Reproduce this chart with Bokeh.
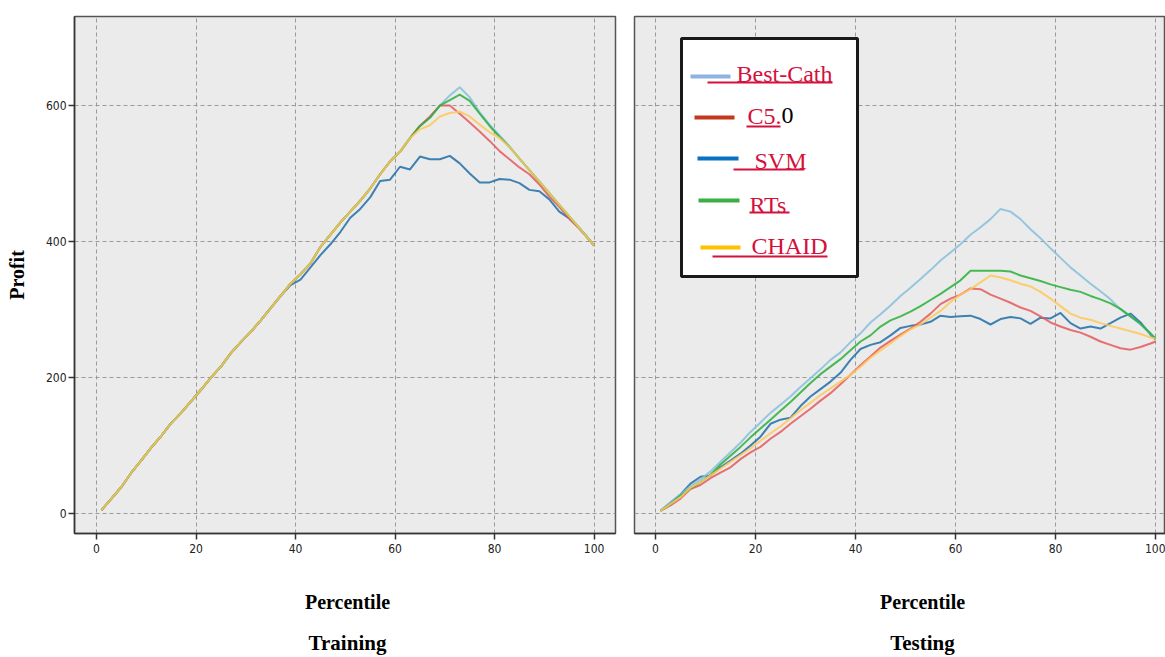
from bokeh.plotting import figure
from bokeh.models import Range1d, FixedTicker, Label, BoxAnnotation
from bokeh.layouts import row, column
from bokeh.embed import file_html
from bokeh.resources import INLINE

# ---------------- data ----------------
percentile = [1, 3, 5, 7, 9, 11, 13, 15, 17, 19, 21, 23, 25, 27, 29, 31, 33, 35, 37, 39,
              41, 43, 45, 47, 49, 51, 53, 55, 57, 59, 61, 63, 65, 67, 69, 71, 73, 75, 77, 79,
              81, 83, 85, 87, 89, 91, 93, 95, 97, 99, 100]

series_names = ["Best-Cath", "C5.0", "SVM", "RTs", "CHAID"]

train_best = [5, 22, 39, 60, 78, 97, 114, 133, 148, 165, 182, 200, 216, 236, 252, 267, 284, 302, 320, 338,
              352, 368, 392, 410, 428, 444, 460, 478, 499, 518, 532, 552, 570, 582, 600, 615, 627, 612, 590, 572,
              556, 540, 522, 505, 488, 471, 454, 437, 420, 403, 394]
train_c50 = [5, 22, 39, 60, 78, 97, 114, 133, 148, 165, 182, 200, 216, 236, 252, 267, 284, 302, 320, 338,
             352, 368, 392, 410, 428, 444, 460, 478, 499, 518, 532, 552, 570, 584, 600, 600, 588, 575, 562, 548,
             533, 521, 509, 499, 484, 466, 451, 434, 419, 403, 394]
train_svm = [5, 22, 39, 60, 78, 97, 114, 133, 148, 165, 182, 200, 216, 236, 252, 267, 284, 302, 320, 336,
             344, 362, 380, 396, 414, 435, 448, 465, 489, 491, 510, 506, 525, 521, 521, 526, 515, 500, 487, 487,
             492, 491, 486, 476, 474, 462, 444, 434, 420, 403, 394]
train_rts = [5, 22, 39, 60, 78, 97, 114, 133, 148, 165, 182, 200, 216, 236, 252, 267, 284, 302, 320, 338,
             352, 368, 392, 410, 428, 444, 460, 478, 499, 518, 532, 552, 570, 582, 600, 608, 616, 607, 588, 570,
             554, 539, 522, 505, 488, 471, 454, 437, 420, 403, 394]
train_chaid = [5, 22, 39, 60, 78, 97, 114, 133, 148, 165, 182, 200, 216, 236, 252, 267, 284, 302, 320, 338,
               352, 368, 392, 410, 428, 444, 460, 478, 499, 518, 532, 552, 565, 571, 584, 589, 591, 584, 572, 561,
               552, 539, 522, 505, 488, 471, 454, 437, 420, 403, 394]

test_best = [4, 16, 28, 40, 50, 62, 76, 90, 104, 120, 134, 148, 160, 172, 186, 199, 212, 226, 237, 252,
             265, 281, 293, 306, 320, 332, 345, 358, 372, 384, 396, 410, 421, 433, 448, 444, 433, 418, 405, 390,
             376, 362, 350, 338, 327, 315, 300, 290, 278, 264, 257]
test_c50 = [4, 12, 22, 36, 42, 52, 60, 68, 80, 90, 98, 110, 120, 132, 143, 154, 166, 177, 190, 204,
            218, 231, 244, 254, 263, 272, 282, 294, 308, 316, 322, 331, 330, 322, 316, 310, 303, 298, 290, 281,
            275, 270, 266, 260, 253, 248, 243, 241, 245, 250, 253]
test_svm = [4, 16, 28, 44, 54, 56, 68, 78, 88, 100, 113, 132, 138, 141, 158, 172, 183, 194, 207, 226,
            242, 248, 252, 262, 273, 276, 278, 282, 291, 289, 290, 291, 286, 278, 286, 289, 287, 279, 288, 287,
            295, 280, 272, 275, 272, 280, 288, 294, 281, 263, 256]
test_rts = [4, 14, 26, 37, 46, 57, 72, 85, 98, 112, 125, 138, 151, 164, 178, 192, 205, 216, 227, 240,
            253, 262, 275, 284, 290, 297, 305, 314, 323, 333, 343, 357, 357, 357, 357, 356, 350, 346, 342, 337,
            333, 329, 326, 320, 315, 309, 301, 290, 279, 265, 257]
test_chaid = [4, 14, 24, 38, 46, 56, 66, 76, 86, 96, 107, 118, 128, 140, 152, 163, 174, 184, 194, 204,
              216, 229, 240, 250, 261, 271, 278, 288, 298, 311, 322, 330, 340, 350, 347, 343, 338, 334, 326, 316,
              305, 294, 288, 285, 280, 276, 272, 268, 264, 259, 257]

x_ticks = [0, 20, 40, 60, 80, 100]
y_ticks = [0, 200, 400, 600]
x_title = "Percentile"
panel_titles = ["Training", "Testing"]
y_title = "Profit"

# ---------------- styles ----------------
line_colors = {"Best-Cath": "#86c0dc", "C5.0": "#e5595e", "SVM": "#1f6ea8",
               "RTs": "#2ab03a", "CHAID": "#ffc857"}
legend_colors = {"Best-Cath": "#8db3e2", "C5.0": "#c4391e", "SVM": "#0a70c0",
                 "RTs": "#3cae44", "CHAID": "#ffc000"}
draw_order = ["SVM", "Best-Cath", "C5.0", "RTs", "CHAID"]
serif = "Liberation Serif"
tick_font = "'Liberation Sans Narrow', 'DejaVu Sans Condensed', sans-serif"
red_text = "#d4103c"

Y0, Y1 = -29.4, 731


def make_fig(width, bl, br, x0, x1, show_y):
    p = figure(width=width, height=557, output_backend="svg", toolbar_location=None,
               x_range=Range1d(x0, x1), y_range=Range1d(Y0, Y1),
               min_border_left=bl, min_border_right=br, min_border_top=16, min_border_bottom=24)
    p.background_fill_color = "#ebebeb"
    p.border_fill_color = "white"
    p.outline_line_color = "#555555"
    p.outline_line_width = 1.5
    for ax in p.xaxis + p.yaxis:
        ax.axis_line_color = "#333333"
        ax.axis_line_width = 1.5
        ax.major_tick_line_color = "#333333"
        ax.major_tick_line_width = 1.5
        ax.major_tick_out = 6
        ax.major_tick_in = 0
        ax.minor_tick_out = 0
        ax.minor_tick_in = 0
        ax.major_label_text_font = tick_font
        ax.major_label_text_font_size = "12px"
        ax.major_label_text_color = "#222222"
    p.xaxis.ticker = FixedTicker(ticks=x_ticks)
    p.yaxis.ticker = FixedTicker(ticks=y_ticks)
    p.xaxis.major_label_standoff = 4
    p.yaxis.major_label_standoff = 2
    for g in p.xgrid + p.ygrid:
        g.grid_line_color = "#9a9a9a"
        g.grid_line_dash = "4 3"
        g.grid_line_width = 1
    p.xgrid.ticker = FixedTicker(ticks=x_ticks)
    p.ygrid.ticker = FixedTicker(ticks=y_ticks)
    if show_y:
        p.yaxis.axis_label = y_title
        p.yaxis.axis_label_text_font = serif
        p.yaxis.axis_label_text_font_style = "bold"
        p.yaxis.axis_label_text_font_size = "20px"
        p.yaxis.axis_label_text_color = "black"
        p.yaxis.axis_label_standoff = 15
    else:
        p.yaxis.visible = False
    return p


p1 = make_fig(624, 74, 9, -4.42, 104.3, True)
p2 = make_fig(541, 10, 0, -4.2, 102.0, False)

train = {"Best-Cath": train_best, "C5.0": train_c50, "SVM": train_svm, "RTs": train_rts, "CHAID": train_chaid}
test = {"Best-Cath": test_best, "C5.0": test_c50, "SVM": test_svm, "RTs": test_rts, "CHAID": test_chaid}

for p, data in ((p1, train), (p2, test)):
    for name in draw_order:
        p.line(percentile, data[name], line_color=line_colors[name], line_width=2, line_alpha=0.85)

# legend (drawn manually in the testing panel, frame-relative screen units)
p2.add_layout(BoxAnnotation(left=47, right=223, top=495, bottom=257,
                            left_units="screen", right_units="screen", top_units="screen", bottom_units="screen",
                            fill_color="white", fill_alpha=1, line_color="#1a1a1a", line_alpha=1,
                            line_width=3))
legend_layout = {
    # sample x0, x1, y ; text x, baseline ; underline x0, x1, y
    "Best-Cath": (56, 96, 457, 102, 460, 73, 198, 451),
    "C5.0": (60, 100, 416, 113, 418, 112, 146, 407),
    "SVM": (63, 104, 375, 120, 373, 99, 170, 364),
    "RTs": (64, 105, 333, 115, 329, 115, 155, 321),
    "CHAID": (66, 106, 286, 117, 288, 78, 193, 277),
}
for name in series_names:
    sx0, sx1, sy, tx, ty, ux0, ux1, uy = legend_layout[name]
    p2.add_layout(BoxAnnotation(left=sx0, right=sx1, top=sy + 2, bottom=sy - 2,
                                left_units="screen", right_units="screen", top_units="screen",
                                bottom_units="screen", fill_color=legend_colors[name], fill_alpha=1,
                                line_color=None))
    p2.add_layout(BoxAnnotation(left=ux0, right=ux1, top=uy + 1, bottom=uy - 1,
                                left_units="screen", right_units="screen", top_units="screen",
                                bottom_units="screen", fill_color=red_text, fill_alpha=1,
                                line_color=None))
    if name == "C5.0":
        p2.add_layout(Label(x=tx, y=ty, x_units="screen", y_units="screen", text="C5.",
                            text_font=serif, text_font_size="24px", text_color=red_text,
                            text_baseline="alphabetic"))
        p2.add_layout(Label(x=tx + 34, y=ty, x_units="screen", y_units="screen", text="0",
                            text_font=serif, text_font_size="24px", text_color="black",
                            text_baseline="alphabetic"))
    else:
        p2.add_layout(Label(x=tx, y=ty, x_units="screen", y_units="screen", text=name,
                            text_font=serif, text_font_size="24px", text_color=red_text,
                            text_baseline="alphabetic"))

# bottom strip with the axis titles and panel names
pb = figure(width=1165, height=100, output_backend="svg", toolbar_location=None,
            x_range=Range1d(0, 1), y_range=Range1d(0, 1),
            x_axis_location=None, y_axis_location=None,
            min_border_left=0, min_border_right=0, min_border_top=0, min_border_bottom=0)
pb.outline_line_color = None
pb.background_fill_color = "white"
pb.border_fill_color = "white"
pb.xgrid.visible = False
pb.ygrid.visible = False
for cx, title in ((347, panel_titles[0]), (922, panel_titles[1])):
    pb.add_layout(Label(x=cx, y=56, x_units="screen", y_units="screen", text=x_title,
                        text_align="center", text_baseline="middle", text_font=serif,
                        text_font_style="bold", text_font_size="20px", text_color="black"))
    pb.add_layout(Label(x=cx, y=15, x_units="screen", y_units="screen", text=title,
                        text_align="center", text_baseline="middle", text_font=serif,
                        text_font_style="bold", text_font_size="21px", text_color="black"))

layout = column(row(p1, p2), pb)
open("out.html", "w").write(file_html(layout, INLINE))
